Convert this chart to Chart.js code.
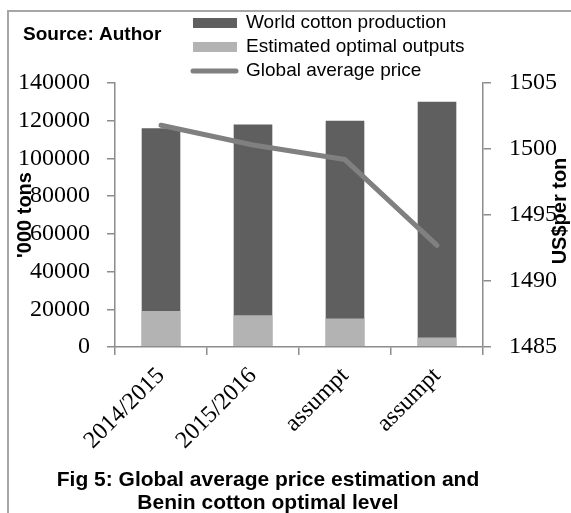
<!DOCTYPE html>
<html>
<head>
<meta charset="utf-8">
<script src="https://cdn.jsdelivr.net/npm/chart.js@4/dist/chart.umd.min.js"></script>
<style>
  html, body { margin: 0; padding: 0; background: #fff; }
  #wrap { width: 571px; height: 513px; }
</style>
</head>
<body>
<div id="wrap"><canvas id="c" width="571" height="513"></canvas></div>
<script>
// Seasons on the category axis
const seasons = ['2014/2015', '2015/2016', 'assumpt', 'assumpt'];
// World cotton production ('000 tons)
const worldProduction = [116000, 118000, 120000, 130000];
// Estimated optimal outputs for Benin ('000 tons)
const optimalOutputs = [19100, 16800, 15100, 5000];
// Global average price (US$ per ton)
const averagePrice = [1501.8, 1500.3, 1499.2, 1492.7];

const seriesNames = ['World cotton production', 'Estimated optimal outputs', 'Global average price'];
const sourceNote = 'Source: Author';
const leftTitle = "'000 tons";
const rightTitle = 'US$per ton';
const captionLines = ['Fig 5: Global average price estimation and', 'Benin cotton optimal level'];

const DARK = '#5f5f5f';
const LIGHT = '#b3b3b3';
const LINE = '#808080';
const AXIS = '#8c8c8c';
const SERIF = '"Liberation Serif", "Times New Roman", serif';
const SANS = '"Liberation Sans", Arial, sans-serif';

// Frame, legend, axis titles and caption around the plot
const decorations = {
  id: 'decorations',
  afterDraw(chart) {
    const ctx = chart.ctx;
    const ds = chart.data.datasets;
    ctx.save();

    // outer frame (top and left edges)
    ctx.strokeStyle = '#a6a6a6';
    ctx.lineWidth = 2;
    ctx.beginPath();
    ctx.moveTo(571, 11);
    ctx.lineTo(8, 11);
    ctx.lineTo(8, 513);
    ctx.stroke();

    // source note
    ctx.fillStyle = '#000';
    ctx.font = 'bold 19px ' + SANS;
    ctx.textAlign = 'left';
    ctx.textBaseline = 'middle';
    ctx.fillText(sourceNote, 23, 35);

    // legend
    const rows = [23, 47, 71];
    ctx.font = '19px ' + SANS;
    ds.forEach((d, i) => {
      const y = rows[i];
      if (d.type === 'line') {
        ctx.strokeStyle = d.borderColor;
        ctx.lineWidth = 5;
        ctx.lineCap = 'round';
        ctx.beginPath();
        ctx.moveTo(193, y);
        ctx.lineTo(236, y);
        ctx.stroke();
      } else {
        ctx.fillStyle = d.backgroundColor;
        ctx.fillRect(193, y - 5, 44, 10);
      }
      ctx.fillStyle = '#000';
      ctx.fillText(d.label, 246, y);
    });

    // axis titles, both reading bottom to top
    const area = chart.chartArea;
    const midY = (area.top + area.bottom) / 2;
    ctx.font = 'bold 20px ' + SANS;
    ctx.textAlign = 'center';
    ctx.textBaseline = 'middle';
    ctx.save();
    ctx.translate(25, midY);
    ctx.rotate(-Math.PI / 2);
    ctx.fillText(leftTitle, 0, 0);
    ctx.restore();
    ctx.save();
    ctx.translate(560, midY - 4);
    ctx.rotate(-Math.PI / 2);
    ctx.fillText(rightTitle, 0, 0);
    ctx.restore();

    // caption
    ctx.font = 'bold 21px ' + SANS;
    ctx.fillText(captionLines[0], 268, 480);
    ctx.fillText(captionLines[1], 268, 503);

    ctx.restore();
  }
};

new Chart(document.getElementById('c'), {
  data: {
    labels: seasons,
    datasets: [
      {
        type: 'bar',
        label: seriesNames[0],
        data: worldProduction,
        backgroundColor: DARK,
        grouped: false,
        yAxisID: 'y',
        order: 3
      },
      {
        type: 'bar',
        label: seriesNames[1],
        data: optimalOutputs,
        backgroundColor: LIGHT,
        grouped: false,
        yAxisID: 'y',
        order: 2
      },
      {
        type: 'line',
        label: seriesNames[2],
        data: averagePrice,
        borderColor: LINE,
        backgroundColor: LINE,
        borderWidth: 5,
        borderCapStyle: 'round',
        borderJoinStyle: 'round',
        pointRadius: 0,
        tension: 0,
        yAxisID: 'y1',
        order: 1
      }
    ]
  },
  options: {
    responsive: false,
    animation: false,
    layout: { padding: { left: 14, right: 0, top: 83, bottom: 0 } },
    datasets: { bar: { barPercentage: 0.42, categoryPercentage: 1 } },
    plugins: {
      legend: { display: false },
      tooltip: { enabled: false }
    },
    scales: {
      x: {
        offset: true,
        grid: { display: true, offset: true, drawOnChartArea: false, drawTicks: true, tickLength: 8, color: AXIS, lineWidth: 1.5 },
        border: { color: AXIS, width: 1.5 },
        ticks: { color: '#000', font: { family: SERIF, size: 24 }, minRotation: 45, maxRotation: 45, padding: 7 },
        afterFit(scale) { scale.height = 166; }
      },
      y: {
        position: 'left',
        min: 0,
        max: 140000,
        grid: { display: true, drawOnChartArea: false, drawTicks: true, tickLength: 8, color: AXIS, lineWidth: 1.5 },
        border: { color: AXIS, width: 1.5 },
        ticks: { stepSize: 20000, color: '#000', font: { family: SERIF, size: 24 }, padding: 17, callback: v => String(v) },
        afterFit(scale) { scale.width = 101; }
      },
      y1: {
        position: 'right',
        min: 1485,
        max: 1505,
        grid: { display: true, drawOnChartArea: false, drawTicks: true, tickLength: 8, color: AXIS, lineWidth: 1.5 },
        border: { color: AXIS, width: 1.5 },
        ticks: { stepSize: 5, color: '#000', font: { family: SERIF, size: 24 }, padding: 18, callback: v => String(v) },
        afterFit(scale) { scale.width = 88; }
      }
    }
  },
  plugins: [decorations]
});
</script>
</body>
</html>
